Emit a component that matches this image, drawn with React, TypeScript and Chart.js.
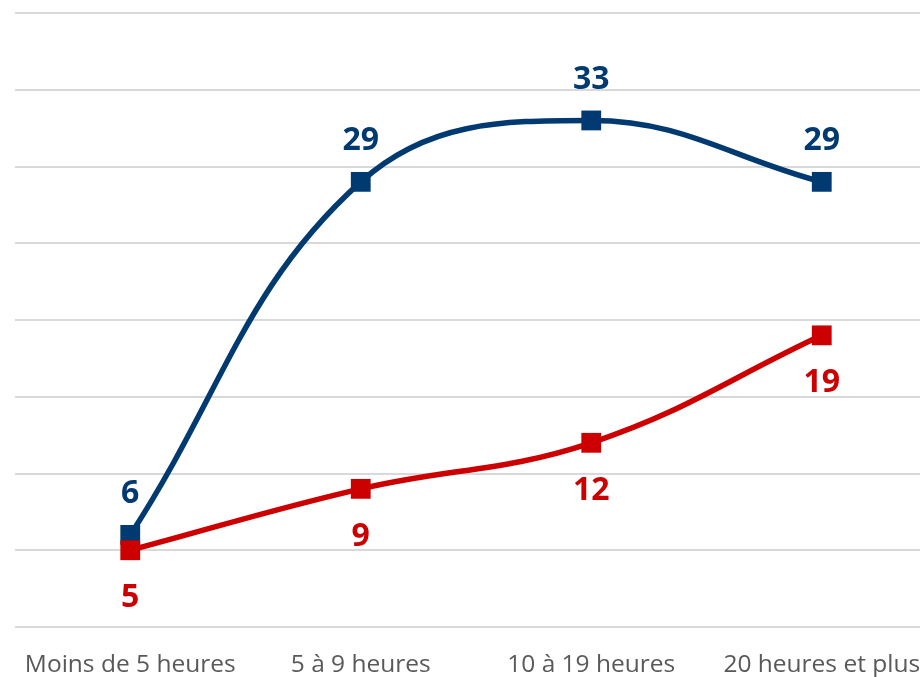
import React, { useEffect, useRef } from "react";
import { Chart, registerables } from "chart.js";

Chart.register(...registerables);

const categories = ["Moins de 5 heures", "5 à 9 heures", "10 à 19 heures", "20 heures et plus"];
const blueValues = [6, 29, 33, 29];
const redValues = [5, 9, 12, 19];
const yMin = 0;
const yMax = 40;
const yStep = 5;

const BLUE = "#003a70";
const RED = "#cc0000";

const labelPlugin = {
  id: "pointLabels",
  afterDatasetsDraw(chart: any) {
    const ctx = chart.ctx;
    ctx.save();
    ctx.font = "bold 32px 'Open Sans'";
    ctx.textAlign = "center";
    ctx.textBaseline = "middle";
    chart.data.datasets.forEach((ds: any, i: number) => {
      const meta = chart.getDatasetMeta(i);
      const above = ds.labelPos === "above";
      meta.data.forEach((pt: any, j: number) => {
        ctx.fillStyle = ds.borderColor;
        ctx.fillText(String(ds.data[j]), pt.x, pt.y + (above ? -41 : 48));
      });
    });
    ctx.restore();
  },
};

export default function App() {
  const ref = useRef<HTMLCanvasElement>(null);
  useEffect(() => {
    if (!ref.current) return;
    const chart = new Chart(ref.current, {
      type: "line",
      data: {
        labels: categories,
        datasets: [
          {
            data: blueValues,
            borderColor: BLUE,
            backgroundColor: BLUE,
            borderWidth: 5.5,
            tension: 0.4,
            pointStyle: "rect",
            pointRadius: 14,
            pointBorderWidth: 0,
            order: 1,
            labelPos: "above",
          } as any,
          {
            data: redValues,
            borderColor: RED,
            backgroundColor: RED,
            borderWidth: 5.5,
            tension: 0.4,
            pointStyle: "rect",
            pointRadius: 14,
            pointBorderWidth: 0,
            order: 0,
            labelPos: "below",
          } as any,
        ],
      },
      options: {
        animation: false,
        responsive: false,
        layout: { autoPadding: false, padding: { left: 15, right: 3, top: 13, bottom: 0 } },
        plugins: { legend: { display: false }, tooltip: { enabled: false } },
        scales: {
          x: {
            offset: true,
            grid: { display: false },
            border: { display: false },
            ticks: {
              color: "#595959",
              font: { family: "'Open Sans'", size: 24.5 },
              padding: 15,
              maxRotation: 0,
              autoSkip: false,
            },
            afterFit: (s: any) => {
              s.height = 50;
            },
          },
          y: {
            min: yMin,
            max: yMax,
            ticks: { display: false, stepSize: yStep },
            border: { display: false },
            grid: { color: "#d9d9d9", lineWidth: 2, drawTicks: false },
            afterFit: (s: any) => {
              s.width = 0;
            },
          },
        },
      },
      plugins: [labelPlugin],
    });
    return () => chart.destroy();
  }, []);
  return (
    <div style={{ position: "absolute", left: 0, top: 0, width: 920, height: 677, overflow: "hidden", background: "#fff" }}>
      <canvas ref={ref} width={940} height={677} style={{ display: "block" }} />
    </div>
  );
}
